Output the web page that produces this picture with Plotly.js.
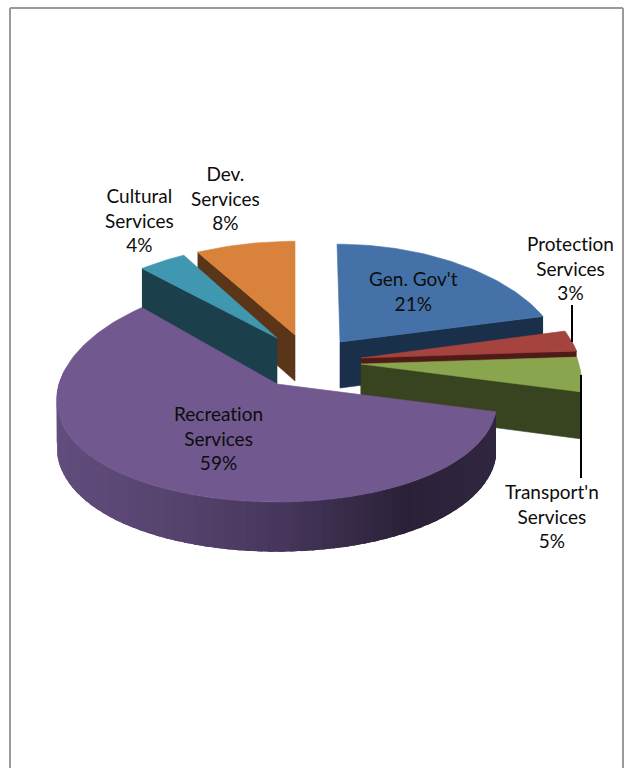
<!DOCTYPE html>
<html><head><meta charset="utf-8">
<script src="https://cdn.plot.ly/plotly-3.0.1.min.js"></script>
<style>html,body{margin:0;padding:0;background:#fff}#c{width:632px;height:768px}
svg text{font-variant-ligatures:none;font-feature-settings:"liga" 0}</style>
</head><body><div id="c"></div>
<script>
// Data, clockwise from 12 o'clock
const categories = ["Gen. Gov't", "Protection<br>Services", "Transport'n<br>Services", "Recreation<br>Services", "Cultural<br>Services", "Dev.<br>Services"];
const values = [21, 3, 5, 59, 4, 8];

// Styles / exploded-slice geometry (pixel-scaled axes)
const topColors  = ['#4472a8', '#a5433f', '#89a64e', '#71588f', '#3f97b0', '#d9823b'];
const wallColors = ['#1a2f4a', '#4f1a18', '#384420', '#2e2540', '#1b3f4b', '#5a3518'];
const apexX   = [340, 361, 361, 277, 277, 295];
const apexY   = [342, 358, 364, 384, 338, 335];
const xScale  = [1, 1, 1, 1, 1, 1.045];
const yScale  = [0.95, 1, 1, 1, 0.91, 0.91];
const skew    = [0.03, 0, 0, 0, 0, 0];
const wallEnd = [true, true, true, false, false, false]; // wall on clockwise end edge
const wallStart = [false, false, false, false, true, true]; // wall on start edge
const drawOrder = [5, 4, 0, 1, 2, 3];
const labelX = [413, 570, 552, 218, 139, 225];
const labelY = [291, 268, 516, 438, 220, 198];
const A = 218, B = 110, KX = 0.144, KY = 0.068, DEPTH = 46;
const rimStops = [[56,[98,78,126]],[200,[84,66,108]],[300,[70,54,92]],[420,[42,33,56]],[496,[48,38,64]]];

const total = values.reduce((a, b) => a + b, 0);
let cum = 0;
const slices = values.map((v, i) => { const s = {a0: cum / total * 2 * Math.PI, a1: (cum + v) / total * 2 * Math.PI}; cum += v; return s; });

function pt(i, th, r, d) {
  const u = Math.sin(th) * r, v = Math.cos(th) * r;
  const py = B * v / (1 + KY * v) * yScale[i];
  const px = A * u / (1 + KX * v) * xScale[i] - skew[i] * py;
  return [apexX[i] + px, apexY[i] - py + (d ? DEPTH * (1 - 0.08 * v) : 0)];
}
function poly(pts, color, lw) {
  return {type: 'scatter', mode: 'lines', x: pts.map(p => p[0]), y: pts.map(p => p[1]), fill: 'toself', fillcolor: color,
          line: {color: color, width: lw}, hoverinfo: 'skip', showlegend: false};
}
function rimColor(x) {
  for (let k = 0; k < rimStops.length - 1; k++) {
    const [x0, c0] = rimStops[k], [x1, c1] = rimStops[k + 1];
    if (x <= x1) { const t = Math.max(0, (x - x0) / (x1 - x0)); return 'rgb(' + c0.map((c, j) => Math.round(c + (c1[j] - c) * t)).join(',') + ')'; }
  }
  return 'rgb(' + rimStops[rimStops.length - 1][1].join(',') + ')';
}
const traces = [];
drawOrder.forEach(i => {
  const s = slices[i];
  if (wallStart[i]) traces.push(poly([pt(i, s.a0, 1, false), pt(i, 0, 0, false), pt(i, 0, 0, true), pt(i, s.a0, 1, true)], wallColors[i], 0.6));
  if (wallEnd[i])   traces.push(poly([pt(i, s.a1, 1, false), pt(i, 0, 0, false), pt(i, 0, 0, true), pt(i, s.a1, 1, true)], wallColors[i], 0.6));
  if (i === 3) { // long outer rim of the largest slice, shaded along its length; strips overlap to hide seams
    const N = 70, end = 1.5 * Math.PI + 0.12, dt = (end - s.a0) / N;
    for (let k = N - 1; k >= 0; k--) {
      const t0 = s.a0 + dt * k, t1 = t0 + dt * 2.5 > end ? end : t0 + dt * 2.5, tm = t0 + dt / 2;
      const pts = [];
      for (let q = 0; q <= 4; q++) pts.push(pt(i, t0 + (t1 - t0) * q / 4, 1, false));
      for (let q = 4; q >= 0; q--) pts.push(pt(i, t0 + (t1 - t0) * q / 4, 1, true));
      traces.push(poly(pts, rimColor(pt(i, tm, 1, false)[0]), 0));
    }
  }
  const n = Math.max(8, Math.round((s.a1 - s.a0) * 40));
  const top = [pt(i, 0, 0, false)];
  for (let k = 0; k <= n; k++) top.push(pt(i, s.a0 + (s.a1 - s.a0) * k / n, 1, false));
  top.push(pt(i, 0, 0, false));
  traces.push(poly(top, topColors[i], 0.6));
});

const annotations = categories.map((c, i) => ({
  x: labelX[i], y: labelY[i], xref: 'x', yref: 'y', text: c + '<br>' + values[i] + '%', showarrow: false,
  align: 'center', xanchor: 'center', yanchor: 'middle',
  font: {family: 'Lato, "Open Sans", sans-serif', size: 19, color: '#0d0d0d'}
}));

const line = (x0, y0, x1, y1, color, w) => ({type: 'line', xref: 'x', yref: 'y', x0, y0, x1, y1, line: {color, width: w}});
const layout = {
  width: 632, height: 768, margin: {l: 0, r: 0, t: 0, b: 0}, paper_bgcolor: '#fff', plot_bgcolor: '#fff', showlegend: false,
  xaxis: {range: [0, 632], visible: false, fixedrange: true},
  yaxis: {range: [768, 0], visible: false, fixedrange: true},
  annotations,
  shapes: [
    line(10, 8, 623, 8, '#9a9a9a', 2), line(10, 8, 10, 768, '#9a9a9a', 2), line(623, 8, 623, 768, '#9a9a9a', 2),
    line(572, 305, 572, 342, '#000', 2), line(581, 375, 581, 478, '#000', 2)
  ]
};
Plotly.newPlot('c', traces, layout, {displayModeBar: false, staticPlot: true});
</script></body></html>
